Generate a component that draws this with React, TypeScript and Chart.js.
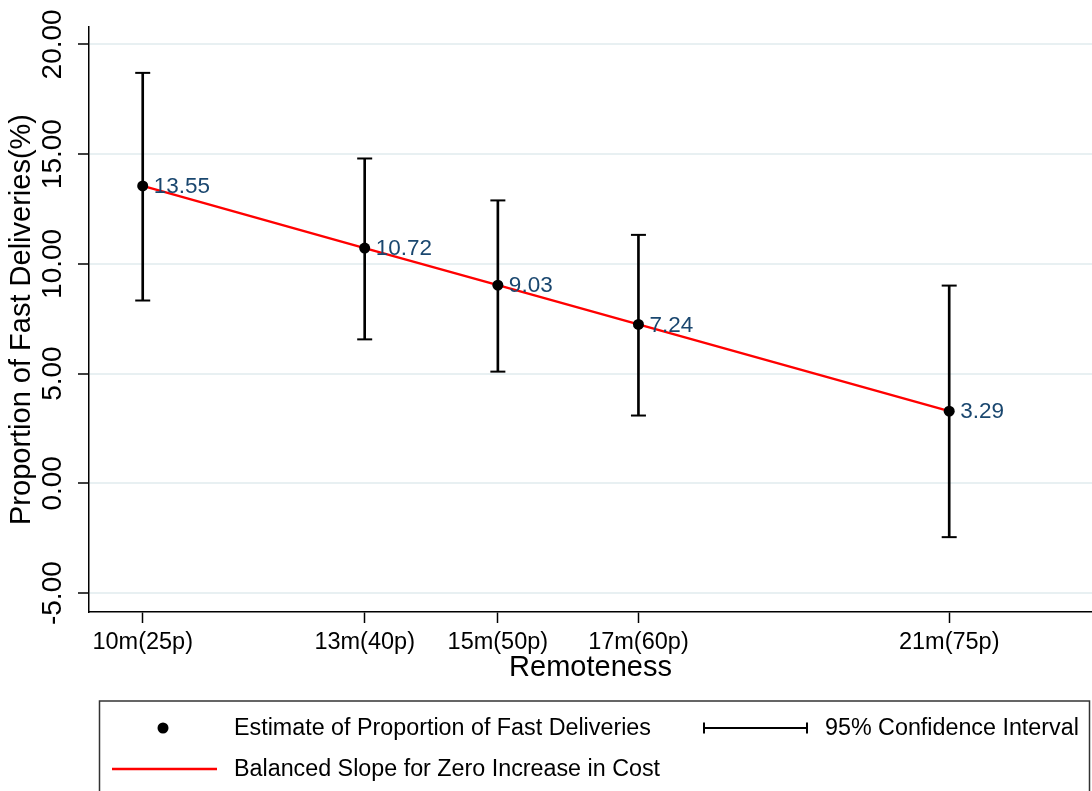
import React, { useEffect, useRef } from 'react';
import { Chart, registerables } from 'chart.js';

Chart.register(...registerables);

// ---- data ----
const categories = ['10m(25p)', '13m(40p)', '15m(50p)', '17m(60p)', '21m(75p)'];
const remotenessMinutes = [10, 13, 14.8, 16.7, 20.9];
const estimates = [13.55, 10.72, 9.03, 7.24, 3.29];
const ciLower = [8.33, 6.56, 5.09, 3.09, -2.45];
const ciUpper = [18.7, 14.8, 12.89, 11.32, 9.01];
const yTickValues = [-5, 0, 5, 10, 15, 20];
const legendLabels = [
  'Estimate of Proportion of Fast Deliveries',
  '95% Confidence Interval',
  'Balanced Slope for Zero Increase in Cost',
];

const FONT = '"Liberation Sans", Arial, Helvetica, sans-serif';
const LABEL_COLOR = '#1a476f';

const dataLabelPlugin = {
  id: 'pointValueLabels',
  afterDatasetsDraw(chart: any) {
    const meta = chart.getDatasetMeta(0);
    const ctx = chart.ctx;
    ctx.save();
    ctx.font = `22.5px ${FONT}`;
    ctx.fillStyle = LABEL_COLOR;
    ctx.textAlign = 'left';
    ctx.textBaseline = 'middle';
    meta.data.forEach((el: any, i: number) => {
      ctx.fillText(estimates[i].toFixed(2), el.x + 11, el.y + 1);
    });
    ctx.restore();
  },
};

const boxLegendPlugin = {
  id: 'boxLegend',
  afterDraw(chart: any) {
    const ctx = chart.ctx;
    ctx.save();
    // frame
    ctx.strokeStyle = '#333';
    ctx.lineWidth = 1.5;
    ctx.strokeRect(99.5, 701, 990, 120);
    ctx.font = `23.3px ${FONT}`;
    ctx.fillStyle = '#000';
    ctx.textAlign = 'left';
    ctx.textBaseline = 'middle';
    // row 1 - dot
    ctx.beginPath();
    ctx.arc(163, 728, 5.5, 0, Math.PI * 2);
    ctx.fill();
    ctx.fillText(legendLabels[0], 234, 729);
    // row 1 - CI symbol
    ctx.strokeStyle = '#000';
    ctx.lineWidth = 2;
    ctx.beginPath();
    ctx.moveTo(703, 728);
    ctx.lineTo(808, 728);
    ctx.moveTo(704, 722.5);
    ctx.lineTo(704, 733.5);
    ctx.moveTo(807, 722.5);
    ctx.lineTo(807, 733.5);
    ctx.stroke();
    ctx.fillText(legendLabels[1], 825, 729);
    // row 2 - red line
    ctx.strokeStyle = '#ff0000';
    ctx.lineWidth = 2.5;
    ctx.beginPath();
    ctx.moveTo(112, 769);
    ctx.lineTo(217, 769);
    ctx.stroke();
    ctx.fillText(legendLabels[2], 234, 770);
    ctx.restore();
  },
};

export default function App() {
  const canvasRef = useRef<HTMLCanvasElement | null>(null);

  useEffect(() => {
    if (!canvasRef.current) return;
    Chart.defaults.font.family = FONT;
    const points = remotenessMinutes.map((x, i) => ({ x, y: estimates[i] }));
    const stems = remotenessMinutes.map((x, i) => ({ x, y: [ciLower[i], ciUpper[i]] }));
    const caps = [
      ...remotenessMinutes.map((x, i) => ({ x, y: ciLower[i] })),
      ...remotenessMinutes.map((x, i) => ({ x, y: ciUpper[i] })),
    ];

    const chart = new Chart(canvasRef.current, {
      type: 'scatter',
      data: {
        datasets: [
          {
            type: 'scatter',
            label: legendLabels[0],
            data: points,
            pointRadius: 5.5,
            pointBackgroundColor: '#000',
            pointBorderColor: '#000',
            pointBorderWidth: 0,
            order: 0,
          } as any,
          {
            type: 'line',
            label: legendLabels[2],
            data: points,
            borderColor: '#ff0000',
            borderWidth: 2.4,
            pointRadius: 0,
            fill: false,
            tension: 0,
            order: 1,
          } as any,
          {
            type: 'scatter',
            label: 'caps',
            data: caps,
            pointStyle: 'line',
            pointRadius: 7.5,
            pointBorderColor: '#000',
            pointBorderWidth: 2,
            showLine: false,
            order: 2,
          } as any,
          {
            type: 'bar',
            label: legendLabels[1],
            data: stems,
            backgroundColor: '#000',
            borderWidth: 0,
            barThickness: 2,
            order: 3,
          } as any,
        ],
      },
      options: {
        responsive: false,
        animation: false,
        events: [],
        layout: { autoPadding: false, padding: { left: 0, right: 0, top: 27, bottom: 106 } },
        plugins: {
          legend: { display: false },
          tooltip: { enabled: false },
        },
        scales: {
          x: {
            type: 'linear',
            min: 9.274,
            max: 22.83,
            offset: false,
            afterBuildTicks: (s: any) => {
              s.ticks = remotenessMinutes.map((v) => ({ value: v }));
            },
            ticks: {
              callback: (_v: any, i: number) => categories[i],
              font: { size: 23.5, family: FONT },
              color: '#000',
              padding: 5,
              maxRotation: 0,
              minRotation: 0,
              autoSkip: false,
            },
            grid: {
              drawOnChartArea: false,
              offset: false,
              tickLength: 11,
              tickColor: '#000',
              tickWidth: 1.5,
            },
            border: { display: true, color: '#000', width: 1.5 },
            title: {
              display: true,
              text: 'Remoteness',
              font: { size: 29, family: FONT },
              color: '#000',
              padding: 0,
            },
            afterFit: (s: any) => {
              s.height = 73;
              s.paddingLeft = 0;
              s.paddingRight = 0;
            },
          } as any,
          y: {
            type: 'linear',
            min: -5.86,
            max: 20.79,
            afterBuildTicks: (s: any) => {
              s.ticks = yTickValues.map((v) => ({ value: v }));
            },
            ticks: {
              callback: (v: any) => Number(v).toFixed(2),
              font: { size: 28, family: FONT },
              color: '#000',
              minRotation: 90,
              maxRotation: 90,
              crossAlign: 'center',
              padding: -10,
              autoSkip: false,
            },
            grid: {
              color: '#e8f0f2',
              lineWidth: 2,
              tickLength: 11,
              tickColor: '#000',
              tickWidth: 1.5,
            },
            border: { display: true, color: '#000', width: 1.5 },
            title: {
              display: true,
              text: 'Proportion of Fast Deliveries(%)',
              font: { size: 29, family: FONT },
              color: '#000',
              padding: { top: 5, bottom: 0 },
            },
            afterFit: (s: any) => {
              s.width = 89;
              s.paddingTop = 0;
              s.paddingBottom = 0;
            },
          } as any,
        },
      } as any,
      plugins: [dataLabelPlugin, boxLegendPlugin],
    });
    return () => chart.destroy();
  }, []);

  return (
    <div style={{ position: 'absolute', left: 0, top: 0, width: 1092, height: 791, background: '#fff' }}>
      <canvas ref={canvasRef} width={1092} height={791} style={{ display: 'block' }} />
    </div>
  );
}
